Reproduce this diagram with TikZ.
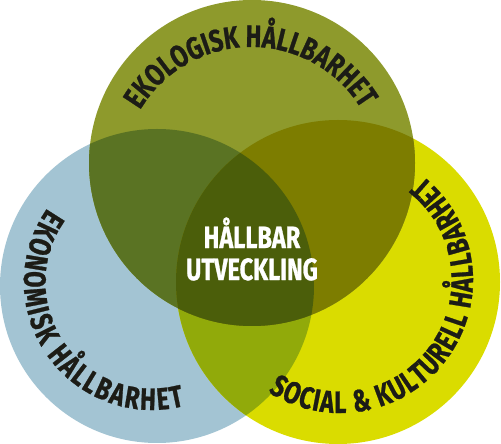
\documentclass[tikz,border=0pt]{standalone}
\usepackage{fontspec}
\setmainfont{Fira Sans}[FakeStretch=0.76, BoldFeatures={FakeBold=0.8}]
\usetikzlibrary{decorations.text}

\definecolor{ekoC}{HTML}{8E9A2C}
\definecolor{ekonC}{HTML}{A3C4D3}
\definecolor{socC}{HTML}{DADC00}
\definecolor{ekoEkonC}{HTML}{5A7323}
\definecolor{ekoSocC}{HTML}{7D7D00}
\definecolor{ekonSocC}{HTML}{91AA0A}
\definecolor{hubC}{HTML}{4B5E0A}
\definecolor{inkC}{HTML}{1C1C16}

\newcommand{\arcfont}{\fontsize{31}{31}\selectfont\bfseries}
\newcommand{\hubfont}{\fontsize{31}{32}\selectfont\bfseries}

\begin{document}
\begin{tikzpicture}[x=1pt, y=1pt,
  ring/.style={decorate, decoration={text along path, text align=fit to path, text color=inkC}}]
  \useasboundingbox (0,0) rectangle (501,444);
  % cirklarna
  \coordinate (eko) at (252,281);
  \coordinate (ekon) at (157,158);
  \coordinate (soc) at (338,162);
  \def\rEko{163}
  \def\rEkon{157}
  \def\rSoc{162}

  \fill[ekonC] (ekon) circle (\rEkon);
  \fill[socC] (soc) circle (\rSoc);
  \fill[ekoC] (eko) circle (\rEko);

  % overlapp
  \begin{scope}
    \clip (ekon) circle (\rEkon);
    \fill[ekonSocC] (soc) circle (\rSoc);
  \end{scope}
  \begin{scope}
    \clip (eko) circle (\rEko);
    \fill[ekoEkonC] (ekon) circle (\rEkon);
    \fill[ekoSocC] (soc) circle (\rSoc);
    \clip (ekon) circle (\rEkon);
    \fill[hubC] (soc) circle (\rSoc);
  \end{scope}

  % text langs cirklarna
  \path[ring, decoration={text={|\arcfont|EKOLOGISK HÅLLBARHET}}]
    ([shift={(251,268)}]149.3:129) arc[start angle=149.3, end angle=31.5, radius=129];
  \path[ring, decoration={text={|\arcfont|EKONOMISK HÅLLBARHET}}]
    ([shift={(152,162)}]144.8:128) arc[start angle=144.8, end angle=284.7, radius=128];
  \path[ring, decoration={text={|\arcfont|SOCIAL {\&} KULTURELL HÅLLBARHET}}]
    ([shift={(340,164)}]237.3:133) arc[start angle=237.3, end angle=411.4, radius=133];

  \node[align=center, text=white, font=\hubfont, inner sep=0pt] (hub) at (252,195) {HÅLLBAR\\UTVECKLING};
\end{tikzpicture}
\end{document}
